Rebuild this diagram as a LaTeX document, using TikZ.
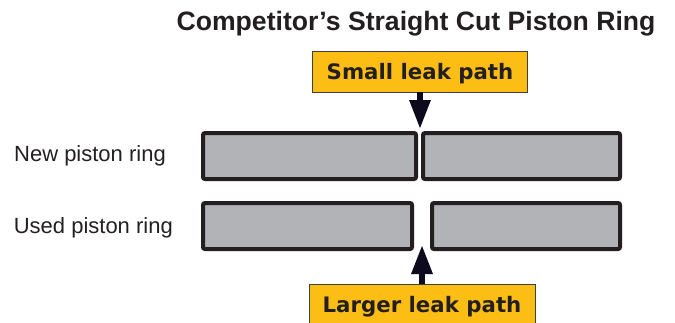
\documentclass[tikz,border=0pt]{standalone}
\usepackage{fontspec}
\setmainfont{Liberation Sans}
\newfontfamily\heavyfont{DejaVu Sans}
\usepackage{xcolor}
\usetikzlibrary{positioning}
\usetikzlibrary{arrows.meta}
\definecolor{ringgray}{RGB}{178,179,182}
\definecolor{ringedge}{RGB}{35,31,32}
\definecolor{leakgold}{RGB}{252,190,20}
\definecolor{arrowink}{RGB}{12,10,28}
\tikzset{>={Triangle[width=20pt,length=29pt]}}

\begin{document}
\begin{tikzpicture}[
            x=1pt, y=-1pt,
            ring/.style={rectangle, draw=ringedge, fill=ringgray, line width=4pt, rounded corners=2pt, minimum height=46pt, inner sep=0pt},
            leak/.style={rectangle, draw=black!75, fill=leakgold, line width=0.8pt, minimum width=215pt, minimum height=41pt, inner sep=0pt, text=ringedge, text depth=0pt, font=\heavyfont\bfseries\fontsize{21.3}{24}\selectfont},
            ringlabel/.style={inner sep=0pt, text=ringedge, font=\fontsize{22}{26}\selectfont},
            title/.style={inner sep=0pt, text=ringedge, font=\bfseries\fontsize{26.6}{30}\selectfont},
            leakarrow/.style={->, draw=arrowink, fill=arrowink, line width=6pt}
        ]
        \useasboundingbox (0,0) rectangle (675,322);
        \node[title] (heading) at (416, 23.5) {Competitor’s Straight Cut Piston Ring};
        \node[ring, minimum width=213pt] (newleft) at (309.5, 156) {};
        \node[ring, minimum width=197pt, right = 3pt of newleft] (newright) {};
        \node[ring, minimum width=209pt, below right = 20pt and 0pt of newleft.south west] (usedleft) {};
        \node[ring, minimum width=188pt, right = 16pt of usedleft] (usedright) {};
        \node[ringlabel, left = 35pt of newleft] (newlabel) {New piston ring};
        \node[ringlabel, left = 28pt of usedleft, yshift=-2pt] (usedlabel) {Used piston ring};
        \node[leak] (smallleak) at (420, 71.5) {Small leak path};
        \node[leak, minimum width=226pt] (largeleak) at (422, 304.5) {Larger leak path};
        \coordinate (newgap) at (420, 129);
        \coordinate (usedgap) at (422, 245);
        \path[leakarrow] (smallleak) edge (newgap);
        \path[leakarrow] (largeleak) edge (usedgap);
        \end{tikzpicture}
\end{document}
